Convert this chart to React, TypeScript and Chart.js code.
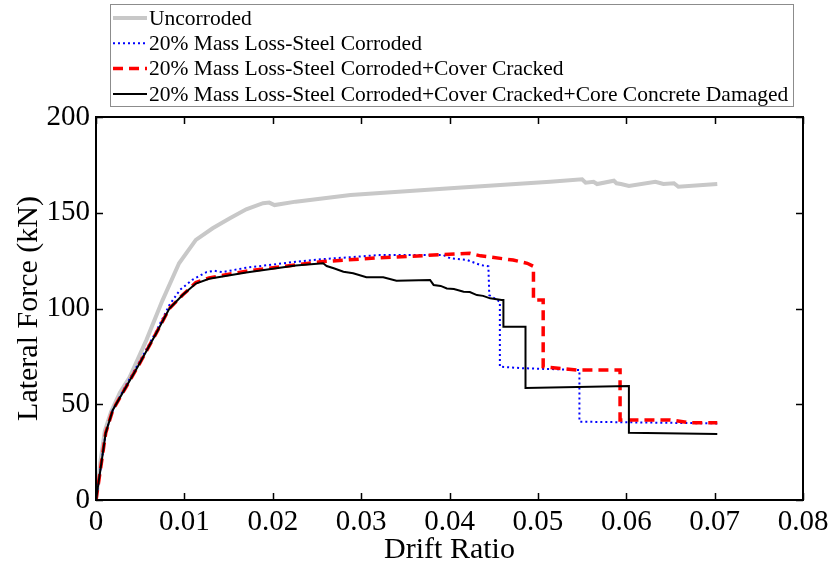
import React, { useEffect, useRef } from "react";
import { Chart, registerables } from "chart.js";

Chart.register(...registerables);

const seriesLabels = [
  "Uncorroded",
  "20% Mass Loss-Steel Corroded",
  "20% Mass Loss-Steel Corroded+Cover Cracked",
  "20% Mass Loss-Steel Corroded+Cover Cracked+Core Concrete Damaged",
];

const uncorrodedX = [0, 0.0005, 0.001, 0.0017, 0.0027, 0.0038, 0.0057, 0.0075, 0.0094, 0.0113, 0.0132, 0.0151, 0.017, 0.0189, 0.0196, 0.0202, 0.0226, 0.0288, 0.0401, 0.0514, 0.055, 0.0554, 0.0563, 0.0567, 0.0586, 0.0589, 0.0594, 0.0603, 0.0633, 0.0642, 0.0654, 0.0659, 0.0703];
const uncorrodedY = [0, 20, 36, 46, 56, 64, 83.5, 104, 123.6, 135.8, 141.9, 147, 151.8, 155, 155.3, 154, 155.8, 159.3, 162.8, 166.2, 167.5, 165.7, 166.2, 165, 166.7, 165.4, 165, 164, 166.2, 165, 165.4, 163.6, 165];

const steelX = [0, 0.0006, 0.0011, 0.0019, 0.0034, 0.0049, 0.0068, 0.0083, 0.0095, 0.0109, 0.0125, 0.0134, 0.0143, 0.017, 0.0226, 0.0254, 0.0321, 0.0393, 0.0401, 0.042, 0.0435, 0.0444, 0.0445, 0.0457, 0.0457, 0.0484, 0.0547, 0.0547, 0.0703];
const steelY = [0, 19, 35, 47, 60, 72, 88, 101.8, 109.7, 115, 119, 119.7, 119, 121.3, 124.4, 125.7, 127.9, 127.9, 126.2, 125.3, 122.7, 122, 107, 103.5, 69.6, 68.8, 67.9, 40.9, 40];

const coverX = [0, 0.0006, 0.0011, 0.0019, 0.0034, 0.0049, 0.0068, 0.0083, 0.0098, 0.0113, 0.0128, 0.017, 0.0254, 0.0321, 0.0423, 0.0435, 0.0472, 0.0488, 0.0495, 0.0495, 0.0506, 0.0506, 0.0544, 0.0593, 0.0593, 0.065, 0.067, 0.0703];
const coverY = [0, 19, 35, 47, 59, 71, 87, 100, 107, 113.5, 116, 119.5, 124.4, 126.5, 128.8, 127.5, 125.3, 123.6, 122, 104.4, 104.4, 69.6, 67.9, 67.9, 41.8, 41.8, 40.4, 40.4];

const coreX = [0, 0.0006, 0.0011, 0.0019, 0.0034, 0.0049, 0.0068, 0.0083, 0.0098, 0.0113, 0.0128, 0.017, 0.0226, 0.0257, 0.0261, 0.0269, 0.028, 0.0291, 0.0306, 0.0325, 0.034, 0.0378, 0.0382, 0.039, 0.0397, 0.0405, 0.0416, 0.0423, 0.0431, 0.0438, 0.0446, 0.0459, 0.0461, 0.0461, 0.0486, 0.0486, 0.0603, 0.0603, 0.0703];
const coreY = [0, 19, 35, 47, 59, 71, 87, 100, 107, 113, 115.5, 118.8, 122.5, 123.6, 122.2, 121, 119.2, 118.4, 116.3, 116.3, 114.5, 114.9, 112.3, 111.8, 110.5, 110.2, 108.8, 108.6, 107, 106.6, 105.3, 104.4, 104.4, 90.5, 90.5, 58.5, 59.5, 35.1, 34.5];

const xTicks = [0, 0.01, 0.02, 0.03, 0.04, 0.05, 0.06, 0.07, 0.08];
const xTickLabels = ["0", "0.01", "0.02", "0.03", "0.04", "0.05", "0.06", "0.07", "0.08"];
const yTicks = [0, 50, 100, 150, 200];
const yTickLabels = ["0", "50", "100", "150", "200"];

const SERIF = "'Liberation Serif', 'Times New Roman', serif";

const seriesStyles = [
  { color: "#c8c8c8", width: 4, dash: [] as number[] },
  { color: "#0000ff", width: 2, dash: [2, 3] },
  { color: "#ff0000", width: 3.5, dash: [10, 6] },
  { color: "#000000", width: 2, dash: [] as number[] },
];

const toPoints = (xs: number[], ys: number[]) => xs.map((x, i) => ({ x, y: ys[i] }));

const framePlugin = {
  id: "frame",
  afterDatasetsDraw(chart: any) {
    const { ctx, chartArea, scales } = chart;
    const { left, right, top, bottom } = chartArea;
    const x = scales.x;
    const y = scales.y;
    ctx.save();
    ctx.strokeStyle = "#000";
    ctx.lineWidth = 1.5;
    ctx.setLineDash([]);
    const tl = 7;
    xTicks.forEach((v) => {
      const px = Math.round(x.getPixelForValue(v)) + 0.5;
      ctx.beginPath();
      ctx.moveTo(px, bottom);
      ctx.lineTo(px, bottom - tl);
      ctx.moveTo(px, top);
      ctx.lineTo(px, top + tl);
      ctx.stroke();
    });
    yTicks.forEach((v) => {
      const py = Math.round(y.getPixelForValue(v)) + 0.5;
      ctx.beginPath();
      ctx.moveTo(left, py);
      ctx.lineTo(left + tl, py);
      ctx.moveTo(right, py);
      ctx.lineTo(right - tl, py);
      ctx.stroke();
    });
    ctx.lineWidth = 2;
    ctx.strokeRect(left, top, right - left, bottom - top);
    ctx.restore();
  },
};

const legendPlugin = {
  id: "customLegend",
  afterDraw(chart: any) {
    const { ctx } = chart;
    ctx.save();
    ctx.fillStyle = "#fff";
    ctx.fillRect(110.5, 4.5, 683, 102);
    ctx.strokeStyle = "#8c8c8c";
    ctx.lineWidth = 1;
    ctx.setLineDash([]);
    ctx.strokeRect(110.5, 4.5, 683, 102);
    ctx.font = `21.5px ${SERIF}`;
    ctx.textBaseline = "middle";
    ctx.textAlign = "left";
    seriesLabels.forEach((label, i) => {
      const cy = 18 + i * 25.3;
      const st = seriesStyles[i];
      ctx.strokeStyle = st.color;
      ctx.lineWidth = st.width;
      ctx.setLineDash(st.dash);
      ctx.beginPath();
      ctx.moveTo(113, cy);
      ctx.lineTo(147, cy);
      ctx.stroke();
      ctx.setLineDash([]);
      ctx.fillStyle = "#000";
      ctx.fillText(label, 149, cy + 1);
    });
    ctx.restore();
  },
};

export default function App() {
  const canvasRef = useRef<HTMLCanvasElement | null>(null);

  useEffect(() => {
    if (!canvasRef.current) return;
    const seriesX = [uncorrodedX, steelX, coverX, coreX];
    const seriesY = [uncorrodedY, steelY, coverY, coreY];
    const chart = new Chart(canvasRef.current, {
      type: "line",
      data: {
        datasets: seriesLabels.map((label, i) => ({
          label,
          data: toPoints(seriesX[i], seriesY[i]),
          borderColor: seriesStyles[i].color,
          backgroundColor: seriesStyles[i].color,
          borderWidth: seriesStyles[i].width,
          borderDash: seriesStyles[i].dash,
          pointRadius: 0,
          tension: 0,
          fill: false,
          order: 4 - i,
        })),
      },
      options: {
        animation: false,
        responsive: false,
        maintainAspectRatio: false,
        layout: { padding: { top: 117, right: 31, left: 0, bottom: 0 } },
        plugins: {
          legend: { display: false },
          tooltip: { enabled: false },
          title: { display: false },
        },
        scales: {
          x: {
            type: "linear",
            min: 0,
            max: 0.08,
            grid: { display: false, drawTicks: false },
            border: { display: false },
            afterBuildTicks: (s: any) => {
              s.ticks = xTicks.map((v) => ({ value: v }));
            },
            afterFit: (s: any) => {
              s.height = 71;
            },
            ticks: {
              autoSkip: false,
              maxRotation: 0,
              padding: 5,
              color: "#000",
              font: { family: SERIF, size: 29 },
              callback: (_v: any, i: number) => xTickLabels[i],
            },
            title: {
              display: true,
              text: "Drift Ratio",
              color: "#000",
              font: { family: SERIF, size: 30 },
              padding: { top: 0, bottom: 3 },
            },
          },
          y: {
            type: "linear",
            min: 0,
            max: 200,
            grid: { display: false, drawTicks: false },
            border: { display: false },
            afterBuildTicks: (s: any) => {
              s.ticks = yTicks.map((v) => ({ value: v }));
            },
            afterFit: (s: any) => {
              s.width = 96;
            },
            ticks: {
              autoSkip: false,
              padding: 6,
              color: "#000",
              font: { family: SERIF, size: 29 },
              callback: (_v: any, i: number) => yTickLabels[i],
            },
            title: {
              display: true,
              text: "Lateral Force (kN)",
              color: "#000",
              font: { family: SERIF, size: 30 },
              padding: { top: 11, bottom: 0 },
            },
          },
        },
      },
      plugins: [framePlugin, legendPlugin],
    });
    return () => chart.destroy();
  }, []);

  return (
    <div style={{ position: "fixed", left: 0, top: 0, width: 834, height: 571, background: "#fff" }}>
      <canvas ref={canvasRef} width={834} height={571} style={{ display: "block", width: 834, height: 571 }} />
    </div>
  );
}
